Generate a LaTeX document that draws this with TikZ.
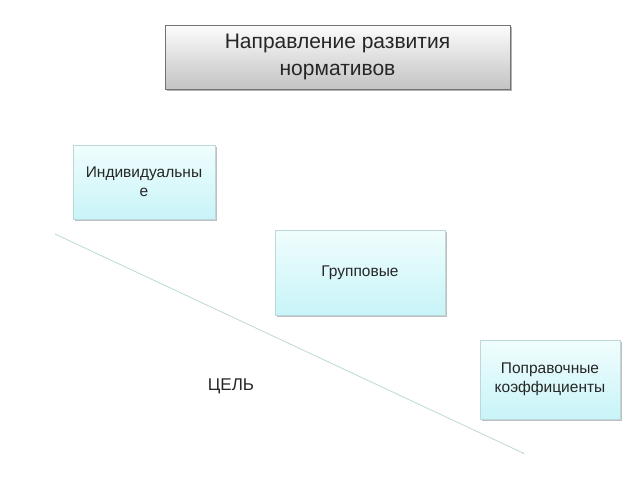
\documentclass[tikz,border=0pt]{standalone}
\usepackage{fontspec}
\setmainfont{Liberation Sans}
\usetikzlibrary{shadows,positioning}
\definecolor{boxtop}{RGB}{240,253,253}
\definecolor{boxbot}{RGB}{200,244,248}
\definecolor{boxedge}{RGB}{190,215,218}
\definecolor{titletop}{RGB}{252,252,252}
\definecolor{titlebot}{RGB}{195,195,195}
\definecolor{linecol}{RGB}{190,215,215}
\tikzset{
  cyanbox/.style={draw=boxedge, line width=0.6pt, top color=boxtop, bottom color=boxbot,
    align=center, font=\fontsize{15.5}{19}\selectfont, text=black!85,
    drop shadow={shadow xshift=1.5pt, shadow yshift=-1.5pt, fill=black, opacity=0.25}},
  titlebox/.style={draw=black!55, line width=0.6pt, top color=titletop, bottom color=titlebot,
    align=center, font=\fontsize{21}{27}\selectfont, text=black!85,
    drop shadow={shadow xshift=1.5pt, shadow yshift=-1.5pt, fill=black, opacity=0.3}},
  goalline/.style={draw=linecol, line width=0.8pt}
}
\begin{document}
\begin{tikzpicture}[x=1pt,y=-1pt]
\useasboundingbox (0,0) rectangle (640,480);
\node[titlebox, minimum width=345pt, minimum height=64pt] (title) at (337.5,57) {Направление развития\\нормативов};
\node[cyanbox, minimum width=142pt, minimum height=74pt] (ind) at (144,182) {Индивидуальны\\е};
\node[cyanbox, minimum width=170pt, minimum height=85pt] (grp) at (360,272.5) {Групповые};
\node[cyanbox, minimum width=140pt, minimum height=79pt] (pop) at (550,379.5) {Поправочные\\коэффициенты};
\coordinate (ls) at (55,234);
\coordinate (le) at (523,453);
\draw[goalline] (ls) -- (le);
\fill[linecol] (le) circle (1.2pt);
\node[font=\fontsize{17}{20}\selectfont, text=black!85] (goal) at (231,386) {ЦЕЛЬ};
\end{tikzpicture}
\end{document}
